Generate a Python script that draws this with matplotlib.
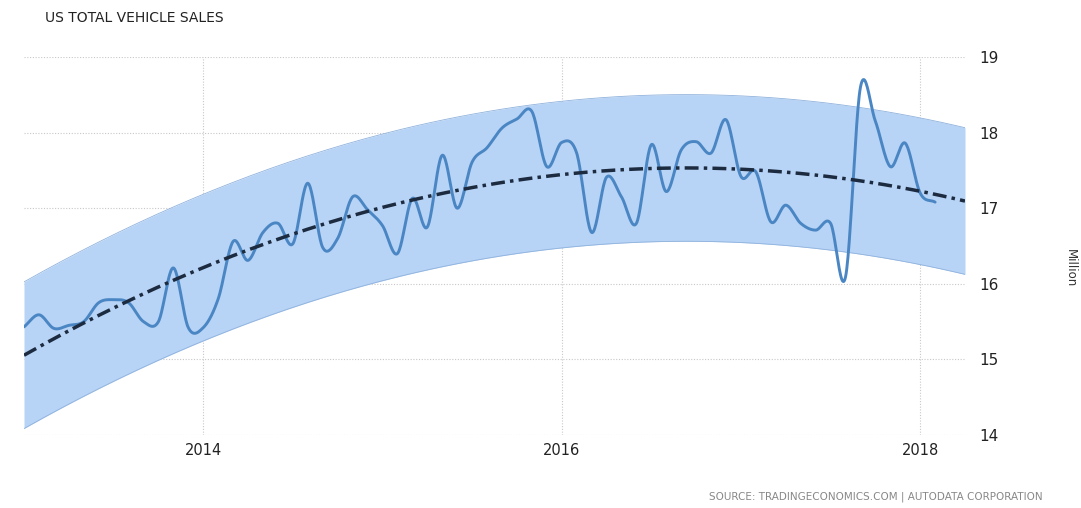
import numpy as np
import matplotlib
matplotlib.use("Agg")
import matplotlib.pyplot as plt

# monthly sales, Jan 2013 .. Feb 2018 (million units, SAAR)
years = [2013, 2014, 2015, 2016, 2017, 2018]
sales_2013 = [15.43, 15.59, 15.41, 15.45, 15.50, 15.75, 15.79, 15.75, 15.50, 15.50, 16.21, 15.42]
sales_2014 = [15.42, 15.80, 16.56, 16.31, 16.68, 16.80, 16.53, 17.33, 16.48, 16.60, 17.15, 16.98]
sales_2015 = [16.77, 16.40, 17.13, 16.75, 17.70, 17.00, 17.61, 17.80, 18.06, 18.18, 18.28, 17.55]
sales_2016 = [17.87, 17.73, 16.68, 17.41, 17.15, 16.80, 17.84, 17.22, 17.77, 17.88, 17.73, 18.17]
sales_2017 = [17.42, 17.48, 16.82, 17.04, 16.80, 16.71, 16.80, 16.09, 18.60, 18.15, 17.55, 17.86]
sales_2018 = [17.20, 17.08]

sales = np.array(sales_2013 + sales_2014 + sales_2015 + sales_2016 + sales_2017 + sales_2018)
t = years[0] + np.arange(len(sales)) / 12.0

band_half = 0.97      # width of the shaded band around the trend
trend_end = 2018.25   # trend / band run a bit past the last point

yticks = [14, 15, 16, 17, 18, 19]
xticks = [2014, 2016, 2018]


def spline(x, y, n=24):
    # cubic hermite with catmull-rom tangents, just for a smooth look
    m = np.gradient(y, x)
    xs, ys = [], []
    for i in range(len(x) - 1):
        h = x[i + 1] - x[i]
        s = np.linspace(0, 1, n, endpoint=False)
        h00 = 2 * s**3 - 3 * s**2 + 1
        h10 = s**3 - 2 * s**2 + s
        h01 = -2 * s**3 + 3 * s**2
        h11 = s**3 - s**2
        xs.append(x[i] + s * h)
        ys.append(h00 * y[i] + h10 * h * m[i] + h01 * y[i + 1] + h11 * h * m[i + 1])
    xs.append([x[-1]])
    ys.append([y[-1]])
    return np.concatenate(xs), np.concatenate(ys)


# quadratic trend fitted on the data
coef = np.polyfit(t - years[0], sales, 2)
tt = np.linspace(t[0], trend_end, 200)
trend = np.polyval(coef, tt - years[0])

fig = plt.figure(figsize=(10.81, 5.08), dpi=100)
ax = fig.add_axes([24 / 1081, 1 - 435 / 508, (965 - 24) / 1081, 378 / 508])

ax.fill_between(tt, trend - band_half, trend + band_half, color="#b7d3f5", lw=0, zorder=1)
ax.plot(tt, trend + band_half, color="#8fb2dd", lw=0.6, zorder=1)
ax.plot(tt, trend - band_half, color="#8fb2dd", lw=0.6, zorder=1)
ax.plot(tt, trend, color="#1c2b3f", lw=2.5, ls=(0, (4, 1.5, 1, 1.5)), zorder=3)
xs, ys = spline(t, sales)
ax.plot(xs, ys, color="#4a86c3", lw=2.1, zorder=2, solid_capstyle="round")

ax.set_xlim(t[0], trend_end)
ax.set_ylim(14, 19)
ax.set_xticks(xticks)
ax.set_xticklabels([str(v) for v in xticks], fontsize=10.5, color="#222222")
ax.set_yticks(yticks)
ax.set_yticklabels([str(v) for v in yticks], fontsize=11, color="#222222")
ax.yaxis.tick_right()
ax.tick_params(axis="both", length=0)
ax.tick_params(axis="y", pad=10)
ax.tick_params(axis="x", pad=6)
ax.grid(True, color="#c8c8c8", ls=(0, (1, 1.5)), lw=0.8)
ax.set_axisbelow(True)
for s in ax.spines.values():
    s.set_visible(False)

fig.text(1070 / 1081, 1 - 268 / 508, "Million", rotation=270, fontsize=8.5,
         color="#333333", ha="center", va="center")
fig.text(45 / 1081, 1 - 18 / 508, "US TOTAL VEHICLE SALES", fontsize=10,
         color="#222222", ha="left", va="center")
fig.text(1043 / 1081, 1 - 497 / 508, "SOURCE: TRADINGECONOMICS.COM | AUTODATA CORPORATION",
         fontsize=7.5, color="#888888", ha="right", va="center")

fig.savefig("out.png", dpi=100)
